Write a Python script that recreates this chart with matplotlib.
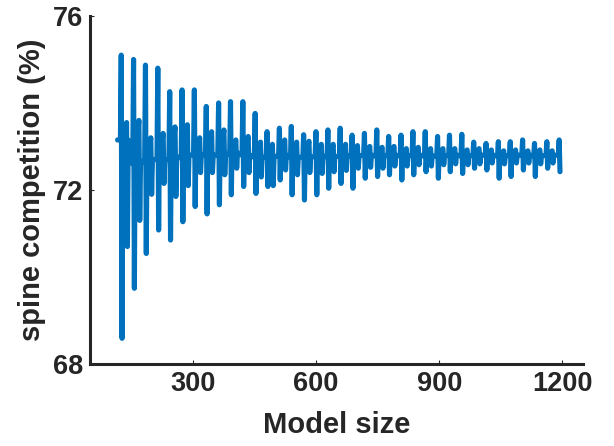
import matplotlib
matplotlib.use("Agg")
import matplotlib.pyplot as plt

# ---- data ----
start_point = (117, 73.15)
period_x = [126, 156, 185, 215, 244, 274, 304, 333, 363, 392, 422, 452, 481, 511,
            540, 570, 600, 629, 659, 688, 718, 748, 777, 807, 836, 866, 896, 925,
            955, 984, 1014, 1044, 1073, 1103, 1132, 1162, 1192]
peak = [75.10, 75.00, 74.87, 74.80, 74.26, 74.30, 74.30, 73.92, 74.00, 74.03, 74.03,
        73.76, 73.34, 73.42, 73.46, 73.27, 73.34, 73.38, 73.42, 73.26, 73.30, 73.38,
        73.23, 73.26, 73.34, 73.34, 73.23, 73.26, 73.28, 73.10, 73.07, 73.11, 73.11,
        73.15, 73.07, 73.11, 73.15]
trough = [68.59, 69.74, 70.54, 71.08, 70.85, 71.27, 71.62, 71.45, 71.66, 71.89, 72.08,
          71.92, 72.08, 72.23, 71.89, 71.77, 71.89, 72.04, 72.15, 72.04, 72.27, 72.31,
          72.35, 72.23, 72.35, 72.42, 72.27, 72.42, 72.38, 72.50, 72.46, 72.27, 72.31,
          72.46, 72.31, 72.50, 72.42]
mid_hi = [73.55, 73.60, 73.20, 73.30, 73.45, 73.50, 73.20, 73.34, 73.38, 73.15, 73.23,
          73.10, 73.05, 73.15, 73.10, 73.12, 73.05, 73.05, 73.05, 73.02, 73.00, 72.98,
          73.00, 72.95, 72.98, 72.95, 72.95, 72.95, 72.92, 72.95, 72.92, 72.90, 72.92,
          72.90, 72.92, 72.90, 72.90]
mid_lo = [70.70, 71.30, 71.90, 72.15, 71.85, 72.10, 72.40, 72.40, 72.35, 72.50, 72.40,
          72.30, 72.10, 72.46, 72.35, 72.40, 72.38, 72.42, 72.45, 72.50, 72.52, 72.50,
          72.55, 72.55, 72.58, 72.55, 72.58, 72.60, 72.58, 72.60, 72.62, 72.60, 72.62,
          72.62, 72.60, 72.62, 72.62]
link = [73.15, 72.60, 72.70, 72.70, 72.70, 72.80, 72.80, 72.80, 72.80, 72.85, 72.80,
        72.75, 72.75, 72.80, 72.75, 72.75, 72.78, 72.76, 72.78, 72.78, 72.80, 72.78,
        72.80, 72.78, 72.80, 72.78, 72.78, 72.80, 72.78, 72.80, 72.80, 72.78, 72.80,
        72.80, 72.78, 72.80, 72.80]

xticks = [300, 600, 900, 1200]
yticks = [68, 72, 76]

# ---- assemble the line ----
xs = [start_point[0]]
ys = [start_point[1]]
for x0, p, t, mh, ml, lk in zip(period_x, peak, trough, mid_hi, mid_lo, link):
    xs += [x0 - 2, x0, x0 + 2, x0 + 3.5, x0 + 13, x0 + 15, x0 + 17]
    ys += [lk, p, t, lk, mh, ml, lk]
xs = xs[:-4]
ys = ys[:-4]

plt.rcParams['font.family'] = ['Liberation Sans', 'DejaVu Sans']
fig = plt.figure(figsize=(6.14, 4.46), dpi=100)
ax = fig.add_axes([0.1466, 0.1839, 0.8029, 0.7803])
ax.plot(xs, ys, color='#0072BD', linewidth=3.7, solid_joinstyle='round',
        solid_capstyle='round')

ax.set_xlim(50, 1250)
ax.set_ylim(68, 76)
ax.set_xticks(xticks)
ax.set_yticks(yticks)
ax.set_xticklabels([str(v) for v in xticks])
ax.set_yticklabels([str(v) for v in yticks])

for s in ['top', 'right']:
    ax.spines[s].set_visible(False)
for s in ['left', 'bottom']:
    ax.spines[s].set_linewidth(2.2)
    ax.spines[s].set_color('#262626')

ax.tick_params(direction='in', length=3, width=0.8, colors='#262626',
               labelsize=19.5, pad=5)
for lab in ax.get_xticklabels() + ax.get_yticklabels():
    lab.set_fontweight('bold')

ax.set_xlabel('Model size', fontsize=21, fontweight='bold', color='#262626', labelpad=10)
ax.set_ylabel('spine competition (%)', fontsize=21, fontweight='bold', color='#262626',
              labelpad=5)

fig.savefig('out.png', dpi=100)
